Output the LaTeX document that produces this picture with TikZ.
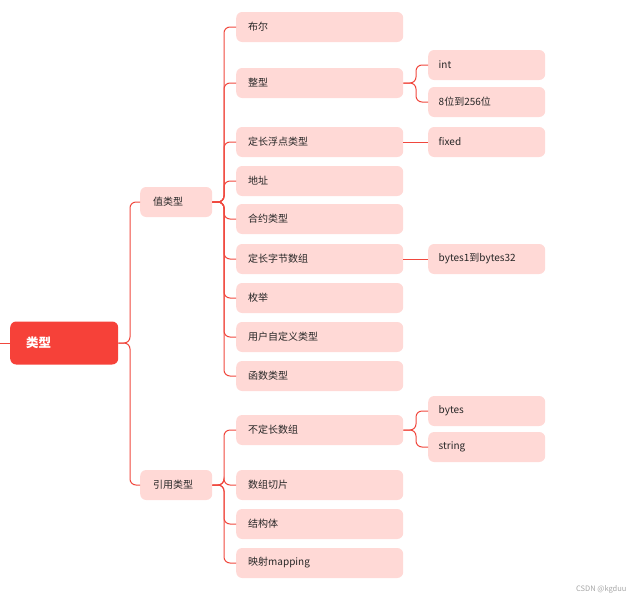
\documentclass[tikz,border=0pt]{standalone}
\usepackage{fontspec}
\setmainfont{Noto Sans CJK SC}
\begin{document}
\begin{tikzpicture}[x=1pt,y=-1pt,
  leaf/.style={fill=pinkbox,rounded corners=6pt,anchor=west,minimum height=30pt,text width=#1,inner sep=0pt,align=left,font=\fontsize{10}{12}\selectfont,text=black!85},
  leaf/.default=159pt,
  conn/.style={draw=linered,line width=1pt,rounded corners=6pt}]
\definecolor{pinkbox}{HTML}{FFD9D6}
\definecolor{linered}{HTML}{F0483E}
\definecolor{rootred}{HTML}{F64139}
\useasboundingbox (0,0) rectangle (634,600);
\node[fill=rootred,rounded corners=6pt,minimum width=108pt,minimum height=43pt,anchor=west,text=white,font=\bfseries\fontsize{12.5}{14}\selectfont,align=left,text width=92pt,inner sep=0pt] (root) at (10,343) {\hspace*{8pt}类型};
\coordinate (l0) at (0,343);
\draw[conn] (l0) -- (root.west);
\node[leaf=64pt,minimum width=72pt] (v) at (140,202) {\hspace*{9pt}值类型};
\node[leaf=64pt,minimum width=72pt] (r) at (140,485) {\hspace*{9pt}引用类型};
\foreach \n/\y/\t in {a/27/布尔,b/83/整型,c/142/定长浮点类型,d/181/地址,e/219/合约类型,f/259/定长字节数组,g/298/枚举,h/337/用户自定义类型,i/376/函数类型,j/430/不定长数组,k/485/数组切片,l/524/结构体,m/563/映射mapping}
  \node[leaf,minimum width=167pt] (\n) at (236,\y) {\hspace*{8pt}\t};
\foreach \n/\y/\t in {p/65/int/uint,q/102/8位到256位,s/142/fixed/ufixedMxN,t/259/bytes1到bytes32,u/411/bytes,w/447/string}
  \node[leaf=110pt,minimum width=117pt] (\n) at (428,\y) {\hspace*{7pt}\t};
\foreach \c in {v,r} \draw[conn] (root.east) -- (130,343) |- (\c.west);
\foreach \c in {a,b,c,d,e,f,g,h,i} \draw[conn] (v.east) -- (224,202) |- (\c.west);
\foreach \c in {j,k,l,m} \draw[conn] (r.east) -- (224,485) |- (\c.west);
\foreach \c in {p,q} \draw[conn] (b.east) -- (416,83) |- (\c.west);
\foreach \c in {u,w} \draw[conn] (j.east) -- (416,430) |- (\c.west);
\draw[conn] (c.east) -- (s.west);
\draw[conn] (f.east) -- (t.west);
\node[anchor=east,text=gray!70,font=\fontsize{7.5}{9}\selectfont] (wm) at (630,589) {CSDN @kgduu};
\end{tikzpicture}
\end{document}
